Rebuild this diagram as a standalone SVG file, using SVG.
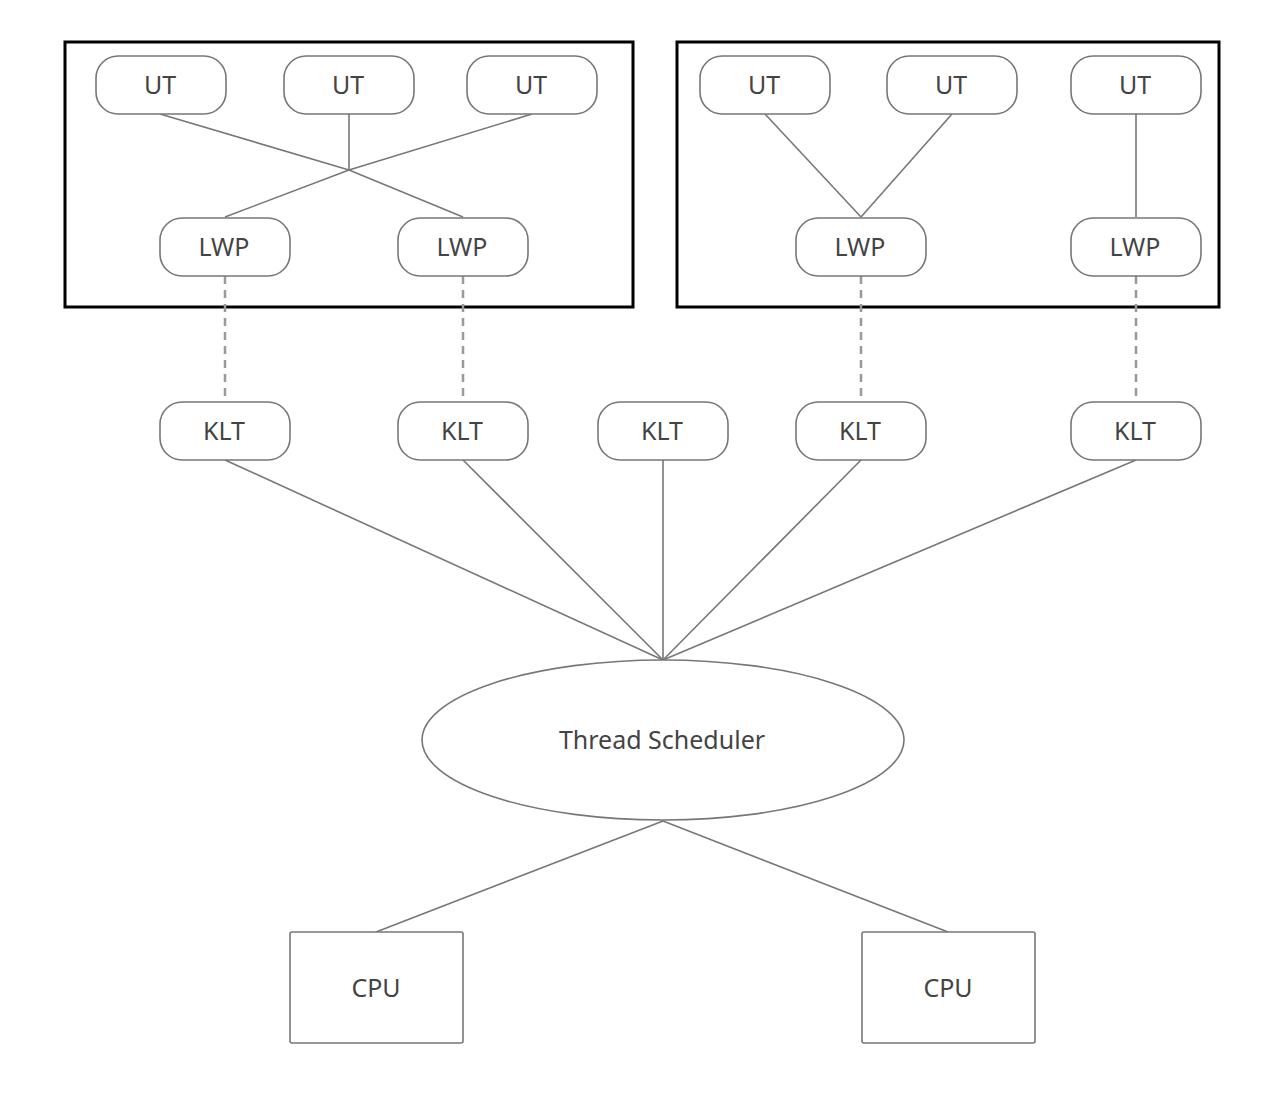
<svg xmlns="http://www.w3.org/2000/svg" width="1266" height="1098" viewBox="0 0 1266 1098">
<style>
.n{fill:#fff;stroke:#777;stroke-width:1.6}
.t{font-family:"Noto Sans","Open Sans",sans-serif;font-size:25px;fill:#444;text-anchor:middle;dominant-baseline:central}
.c{stroke:#777;stroke-width:1.6;fill:none}
.d{stroke:#999;stroke-width:2.5;fill:none;stroke-dasharray:8 6}
.box{fill:none;stroke:#000;stroke-width:3}
</style>
<rect width="1266" height="1098" fill="#fff"/>
<g id="groups">
<rect id="process1" class="box" x="65" y="42" width="568" height="265"/>
<rect id="process2" class="box" x="677" y="42" width="542" height="265"/>
</g>
<g id="connectors">
<polyline class="c" points="160,114 349,170 463,217"/>
<polyline class="c" points="532,114 349,170 225,217"/>
<line class="c" x1="349" y1="114" x2="349" y2="170"/>
<line class="c" x1="765" y1="114" x2="861" y2="217"/>
<line class="c" x1="952" y1="114" x2="861" y2="217"/>
<line class="c" x1="1136" y1="114" x2="1136" y2="217"/>
<line class="d" x1="225" y1="276" x2="225" y2="402"/>
<line class="d" x1="463" y1="276" x2="463" y2="402"/>
<line class="d" x1="861" y1="276" x2="861" y2="402"/>
<line class="d" x1="1136" y1="276" x2="1136" y2="402"/>
<line class="c" x1="225" y1="460" x2="663" y2="660"/>
<line class="c" x1="463" y1="460" x2="663" y2="660"/>
<line class="c" x1="663" y1="460" x2="663" y2="660"/>
<line class="c" x1="861" y1="460" x2="663" y2="660"/>
<line class="c" x1="1136" y1="460" x2="663" y2="660"/>
<line class="c" x1="663" y1="821" x2="376" y2="932"/>
<line class="c" x1="663" y1="821" x2="948" y2="932"/>
</g>
<g id="ut1"><rect class="n" x="96" y="56" width="130" height="58" rx="22"/><text class="t" x="160" y="84">UT</text></g>
<g id="ut2"><rect class="n" x="284" y="56" width="130" height="58" rx="22"/><text class="t" x="348" y="84">UT</text></g>
<g id="ut3"><rect class="n" x="467" y="56" width="130" height="58" rx="22"/><text class="t" x="531" y="84">UT</text></g>
<g id="ut4"><rect class="n" x="700" y="56" width="130" height="58" rx="22"/><text class="t" x="764" y="84">UT</text></g>
<g id="ut5"><rect class="n" x="887" y="56" width="130" height="58" rx="22"/><text class="t" x="951" y="84">UT</text></g>
<g id="ut6"><rect class="n" x="1071" y="56" width="130" height="58" rx="22"/><text class="t" x="1135" y="84">UT</text></g>
<g id="lwp1"><rect class="n" x="160" y="218" width="130" height="58" rx="22"/><text class="t" x="224" y="246">LWP</text></g>
<g id="lwp2"><rect class="n" x="398" y="218" width="130" height="58" rx="22"/><text class="t" x="462" y="246">LWP</text></g>
<g id="lwp3"><rect class="n" x="796" y="218" width="130" height="58" rx="22"/><text class="t" x="860" y="246">LWP</text></g>
<g id="lwp4"><rect class="n" x="1071" y="218" width="130" height="58" rx="22"/><text class="t" x="1135" y="246">LWP</text></g>
<g id="klt1"><rect class="n" x="160" y="402" width="130" height="58" rx="22"/><text class="t" x="224" y="430">KLT</text></g>
<g id="klt2"><rect class="n" x="398" y="402" width="130" height="58" rx="22"/><text class="t" x="462" y="430">KLT</text></g>
<g id="klt3"><rect class="n" x="598" y="402" width="130" height="58" rx="22"/><text class="t" x="662" y="430">KLT</text></g>
<g id="klt4"><rect class="n" x="796" y="402" width="130" height="58" rx="22"/><text class="t" x="860" y="430">KLT</text></g>
<g id="klt5"><rect class="n" x="1071" y="402" width="130" height="58" rx="22"/><text class="t" x="1135" y="430">KLT</text></g>
<g id="scheduler"><ellipse class="n" cx="663" cy="740" rx="241" ry="80"/><text class="t" x="662" y="739">Thread Scheduler</text></g>
<g id="cpu1"><rect class="n" x="290" y="932" width="173" height="111" rx="2"/><text class="t" x="376" y="987">CPU</text></g>
<g id="cpu2"><rect class="n" x="862" y="932" width="173" height="111" rx="2"/><text class="t" x="948" y="987">CPU</text></g>
</svg>
